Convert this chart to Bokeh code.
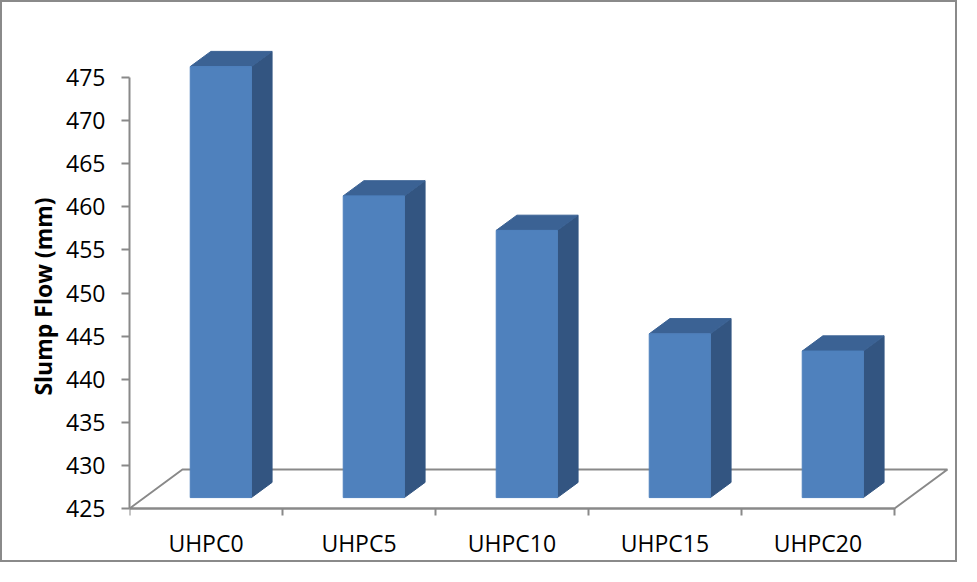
from bokeh.embed import file_html
from bokeh.models import FixedTicker, Range1d
from bokeh.plotting import figure
from bokeh.resources import INLINE

# data
categories = ["UHPC0", "UHPC5", "UHPC10", "UHPC15", "UHPC20"]
slump_flow = [475, 460, 456, 444, 442]
y_ticks = [425, 430, 435, 440, 445, 450, 455, 460, 465, 470, 475]

Y0 = 425
PX_PER_UNIT = 8.62
PX_PER_CAT = 153
# fake-3d geometry (category units / value units)
DEPTH_DX = 0.346
DEPTH_DY = 4.52
D_FRONT = 0.28
D_BACK = 0.67
HALF = 0.2

FONT = "Open Sans"
GRAY = "#898989"

W, H = 957, 562
# frame runs below the floor so the axis title sits centred on the value axis
y_start = Y0 - 48 / PX_PER_UNIT
p = figure(
    width=W,
    height=H,
    x_range=Range1d(0, 826 / PX_PER_CAT),
    y_range=Range1d(y_start, y_start + 520 / PX_PER_UNIT),
    toolbar_location=None,
    output_backend="svg",
    min_border_left=127,
    min_border_right=4,
    min_border_top=34,
    min_border_bottom=8,
)
p.outline_line_color = None
p.grid.visible = False
p.styles = {"border": "2px solid #8a8a8a"}

# floor
n = len(categories)
p.patch(
    [0, n, n + DEPTH_DX, DEPTH_DX],
    [Y0, Y0, Y0 + DEPTH_DY, Y0 + DEPTH_DY],
    fill_color="white",
    line_color=GRAY,
    line_width=2,
)

# bars
fl, fr, fb, ft = [], [], [], []
side_x, side_y, top_x, top_y = [], [], [], []
ddx = (D_BACK - D_FRONT) * DEPTH_DX
ddy = (D_BACK - D_FRONT) * DEPTH_DY
for i, v in enumerate(slump_flow):
    left = i + 0.5 - HALF + D_FRONT * DEPTH_DX
    right = left + 2 * HALF
    bottom = Y0 + D_FRONT * DEPTH_DY
    top = v + D_FRONT * DEPTH_DY
    fl.append(left)
    fr.append(right)
    fb.append(bottom)
    ft.append(top)
    side_x.append([right, right, right + ddx, right + ddx])
    side_y.append([bottom, top, top + ddy, bottom + ddy])
    top_x.append([left, right, right + ddx, left + ddx])
    top_y.append([top, top, top + ddy, top + ddy])

p.patches(side_x, side_y, fill_color="#335581", line_color="#335581")
p.patches(top_x, top_y, fill_color="#3b6294", line_color="#3b6294")
p.quad(left=fl, right=fr, bottom=fb, top=ft, fill_color="#4f81bd", line_color="#4f81bd")

# y axis
yax = p.yaxis[0]
yax.ticker = FixedTicker(ticks=y_ticks)
yax.bounds = (Y0, y_ticks[-1])
yax.axis_line_color = GRAY
yax.axis_line_width = 2
yax.major_tick_line_color = GRAY
yax.major_tick_line_width = 2
yax.major_tick_in = 0
yax.major_tick_out = 8
yax.minor_tick_line_color = None
yax.major_label_text_font = FONT
yax.major_label_text_font_size = "23px"
yax.major_label_text_color = "black"
yax.major_label_standoff = 16
yax.axis_label = "Slump Flow (mm)"
yax.axis_label_text_font = FONT
yax.axis_label_text_font_size = "23px"
yax.axis_label_text_font_style = "bold"
yax.axis_label_text_color = "black"
yax.axis_label_standoff = 4

# x axis at the 425 level: labels between category boundaries
xax = p.xaxis[0]
xax.fixed_location = Y0
centers = [i + 0.5 for i in range(n)]
xax.ticker = FixedTicker(ticks=centers, minor_ticks=list(range(n + 1)))
xax.major_label_overrides = {c: name for c, name in zip(centers, categories)}
xax.bounds = (0, n)
xax.axis_line_color = GRAY
xax.axis_line_width = 2
xax.major_tick_line_color = None
xax.minor_tick_line_color = GRAY
xax.minor_tick_line_width = 2
xax.minor_tick_in = 0
xax.minor_tick_out = 7
xax.major_label_text_font = FONT
xax.major_label_text_font_size = "23px"
xax.major_label_text_color = "black"
xax.major_label_standoff = 11

open("out.html", "w").write(file_html(p, INLINE))
